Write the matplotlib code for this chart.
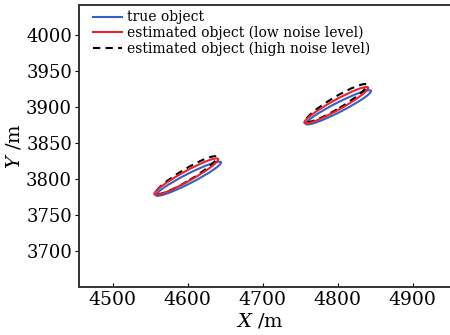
import matplotlib
matplotlib.use("Agg")
import matplotlib.pyplot as plt
from matplotlib.patches import Ellipse
from matplotlib.lines import Line2D

plt.rcParams["font.family"] = "DejaVu Serif"
plt.rcParams["mathtext.fontset"] = "dejavuserif"

# ellipse parameters: centre x, centre y, full length, full width, angle (deg)
TRUE_X   = [4601, 4801]
TRUE_Y   = [3800, 3899]
TRUE_LEN = [98, 98]
TRUE_WID = [13, 13]
TRUE_ANG = [28, 28]

LOW_X   = [4598, 4798]
LOW_Y   = [3803, 3902]
LOW_LEN = [98, 98]
LOW_WID = [14, 14]
LOW_ANG = [30, 30]

HIGH_X   = [4598, 4798]
HIGH_Y   = [3805, 3905]
HIGH_LEN = [96, 96]
HIGH_WID = [16, 16]
HIGH_ANG = [32, 32]

XTICKS = [4500, 4600, 4700, 4800, 4900]
YTICKS = [3700, 3750, 3800, 3850, 3900, 3950, 4000]

fig = plt.figure(figsize=(4.5, 3.35), dpi=100)
ax = fig.add_axes([0.1756, 0.1433, 0.84, 0.842])

def draw(xs, ys, lens, wids, angs, **kw):
    for x, y, l, w, a in zip(xs, ys, lens, wids, angs):
        ax.add_patch(Ellipse((x, y), l, w, angle=a, fill=False, **kw))

draw(TRUE_X, TRUE_Y, TRUE_LEN, TRUE_WID, TRUE_ANG, color="#3a5fc0", lw=1.5)
draw(HIGH_X, HIGH_Y, HIGH_LEN, HIGH_WID, HIGH_ANG, color="black", lw=1.5,
     linestyle=(0, (3.5, 2.5)))
draw(LOW_X, LOW_Y, LOW_LEN, LOW_WID, LOW_ANG, color="#e8232b", lw=1.5)

ax.set_xlim(4455, 4959)
ax.set_ylim(3650, 4041)
ax.set_xticks(XTICKS)
ax.set_yticks(YTICKS)
ax.tick_params(axis="x", direction="in", length=3, labelsize=13.5, pad=3)
ax.tick_params(axis="y", direction="out", length=3, labelsize=13, pad=2)
for s in ax.spines.values():
    s.set_linewidth(1.4)
    s.set_color("#333333")
ax.spines["right"].set_visible(False)

ax.set_xlabel("$X$ /m", fontsize=14)
ax.set_ylabel("$Y$ /m", fontsize=14)
ax.xaxis.set_label_coords(0.478, -0.088)
ax.yaxis.set_label_coords(-0.148, 0.5)

handles = [
    Line2D([], [], color="#3a5fc0", lw=1.5),
    Line2D([], [], color="#e8232b", lw=1.5),
    Line2D([], [], color="black", lw=1.5, linestyle=(0, (3.5, 2.5))),
]
labels = ["true object", "estimated object (low noise level)",
          "estimated object (high noise level)"]
ax.legend(handles, labels, loc="upper left", frameon=False, fontsize=10,
          handlelength=2.1, handletextpad=0.4, labelspacing=0.1,
          borderaxespad=0.3, bbox_to_anchor=(0.01, 1.015))

fig.savefig("out.png", dpi=100)
